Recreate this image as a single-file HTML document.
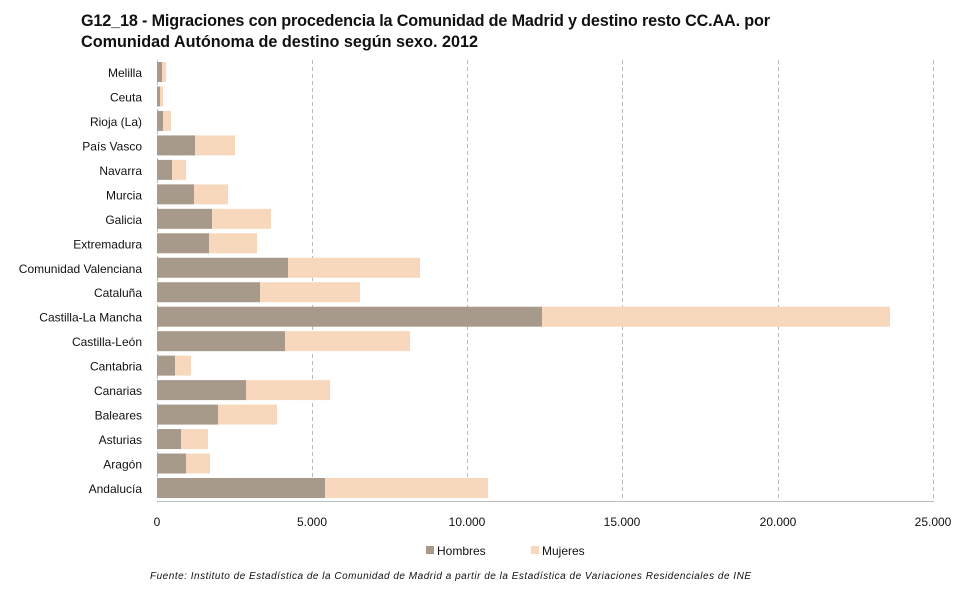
<!DOCTYPE html>
<html><head><meta charset="utf-8"><style>
body{margin:0;background:#fff;}
svg text{font-family:"Liberation Sans",sans-serif;}
</style></head><body>
<svg width="977" height="600" xmlns="http://www.w3.org/2000/svg">
<rect width="977" height="600" fill="#fff"/>
<text x="81" y="26" font-size="16.2" font-weight="bold" fill="#111" textLength="689">G12_18 - Migraciones con procedencia la Comunidad de Madrid y destino resto CC.AA. por</text>
<text x="81" y="47" font-size="16.2" font-weight="bold" fill="#111">Comunidad Autónoma de destino según sexo. 2012</text>
<g stroke="#bbb" stroke-dasharray="4,3" stroke-width="1">
<line x1="157.5" y1="60" x2="157.5" y2="501"/>
<line x1="312.5" y1="60" x2="312.5" y2="501"/>
<line x1="467.5" y1="60" x2="467.5" y2="501"/>
<line x1="622.5" y1="60" x2="622.5" y2="501"/>
<line x1="778.5" y1="60" x2="778.5" y2="501"/>
<line x1="933.5" y1="60" x2="933.5" y2="501"/>
</g>
<line x1="157" y1="501.5" x2="934" y2="501.5" stroke="#bbb"/>
<g id="bars"></g>
<g font-size="12" fill="#111" text-anchor="middle">
<text x="157" y="526">0</text>
<text x="312" y="526">5.000</text>
<text x="467" y="526">10.000</text>
<text x="622" y="526">15.000</text>
<text x="778" y="526">20.000</text>
<text x="933" y="526">25.000</text>
</g>
<rect x="426" y="546" width="8" height="8" fill="#a89a8a"/>
<text x="437" y="555" font-size="12" fill="#111">Hombres</text>
<rect x="531" y="546" width="8" height="8" fill="#f8d8bc"/>
<text x="542" y="555" font-size="12" fill="#111">Mujeres</text>
<text x="150" y="579" font-size="10" font-style="italic" fill="#111" textLength="601">Fuente: Instituto de Estadística de la Comunidad de Madrid a partir de la Estadística de Variaciones Residenciales de INE</text>
</svg>
<script>
var d=[["Melilla",162,166],["Ceuta",160,163],["Rioja (La)",163,171],["País Vasco",195,235],["Navarra",172,186],["Murcia",194,228],["Galicia",212,271],["Extremadura",209,257],["Comunidad Valenciana",288,420],["Cataluña",260,360],["Castilla-La Mancha",542,890],["Castilla-León",285,410],["Cantabria",175,191],["Canarias",246,330],["Baleares",218,277],["Asturias",181,208],["Aragón",186,210],["Andalucía",325,488]];
var g=document.getElementById("bars"),s="";
d.forEach(function(r,i){var c=72+i*24.47,t=c-10;
s+='<rect x="157" y="'+t+'" width="'+(r[1]-157)+'" height="20" fill="#a89a8a"/>';
s+='<rect x="'+r[1]+'" y="'+t+'" width="'+(r[2]-r[1])+'" height="20" fill="#f8d8bc"/>';
s+='<text x="142" y="'+(c+5)+'" font-size="12" fill="#111" text-anchor="end">'+r[0]+'</text>';});
g.innerHTML=s;
</script>
</body></html>
